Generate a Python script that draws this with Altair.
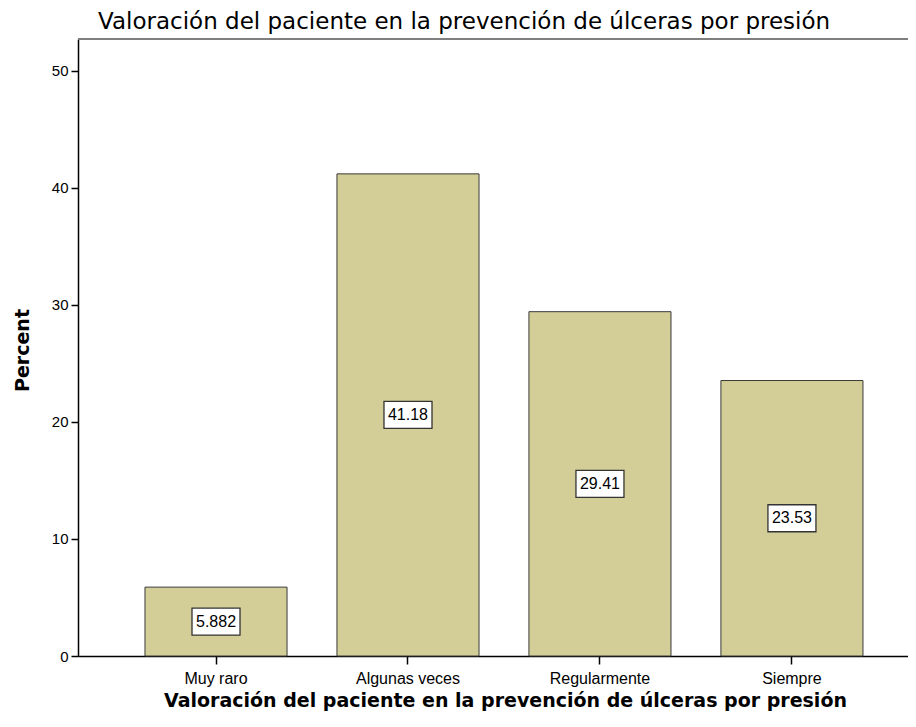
import altair as alt
import pandas as pd

categories = ["Muy raro", "Algunas veces", "Regularmente", "Siempre"]
percents = [5.882, 41.18, 29.41, 23.53]
labels = ["5.882", "41.18", "29.41", "23.53"]
y_ticks = [0, 10, 20, 30, 40, 50]
title_text = "Valoración del paciente en la prevención de úlceras por presión"

df = pd.DataFrame({"cat": categories, "pct": percents, "label": labels})

W, H = 830, 617
xscale = alt.Scale(domain=categories, paddingInner=0.26, paddingOuter=0.2917, align=0.598)
yscale = alt.Scale(domain=[0, 52.7], nice=False, zero=True)

x_axis = alt.Axis(
    title=title_text, titleFont="DejaVu Sans", titleFontSize=19, titleFontWeight="bold",
    titleColor="black", titleX=427, titleY=44, titleBaseline="middle", titleAlign="center",
    labelFont="Liberation Sans", labelFontSize=16, labelColor="black", labelAngle=0,
    labelBaseline="alphabetic", labelPadding=19, tickSize=8, tickColor="black", tickWidth=1.5,
    domainColor="black", domainWidth=1.5, grid=False,
)
y_axis = alt.Axis(
    values=y_ticks, title="Percent", titleFont="DejaVu Sans", titleFontSize=19,
    titleFontWeight="bold", titleColor="black", titleX=-56, titleY=311, titleAngle=-90,
    titleAlign="center", titleBaseline="middle",
    labelFont="Liberation Sans", labelFontSize=15, labelColor="black", labelPadding=3,
    tickSize=7, tickColor="black", tickWidth=1.5, domainColor="black", domainWidth=1.5, grid=False,
)

base = alt.Chart(df)

bars = base.mark_bar(color="#D3CE97", stroke="#3a3a3a", strokeWidth=1).encode(
    x=alt.X("cat:N", scale=xscale, sort=categories, axis=x_axis),
    y=alt.Y("pct:Q", scale=yscale, axis=y_axis),
)

box_shape = "M-1,-0.5625L1,-0.5625L1,0.5625L-1,0.5625Z"
boxes = base.transform_calculate(mid="datum.pct / 2").mark_point(
    shape=box_shape, size=2304, filled=True, fill="white", stroke="#333333",
    strokeWidth=1.3, opacity=1,
).encode(
    x=alt.X("cat:N", scale=xscale, sort=categories),
    y=alt.Y("mid:Q", scale=yscale),
)

texts = base.transform_calculate(mid="datum.pct / 2").mark_text(
    font="Liberation Sans", fontSize=16, color="black", align="center", baseline="middle",
).encode(
    x=alt.X("cat:N", scale=xscale, sort=categories),
    y=alt.Y("mid:Q", scale=yscale),
    text="label:N",
)

top_line = alt.Chart(pd.DataFrame({"a": [0]})).mark_rule(color="#7f7f7f", strokeWidth=2).encode(
    y=alt.value(0), x=alt.value(0), x2=alt.value(W),
)

title_mark = alt.Chart(pd.DataFrame({"t": [title_text]})).mark_text(
    font="DejaVu Sans", fontSize=23, color="black", align="left", baseline="alphabetic",
).encode(
    x=alt.value(20), y=alt.value(-10), text="t:N",
)

chart = alt.layer(bars, boxes, texts, top_line, title_mark).properties(
    width=W, height=H,
    autosize="none",
    padding={"left": 70, "top": 31, "right": 0, "bottom": 55},
).configure_view(fill="#F0F0F0", strokeWidth=0).configure(background="white")

chart.save("out.html", embed_options={"renderer": "svg", "actions": False})
